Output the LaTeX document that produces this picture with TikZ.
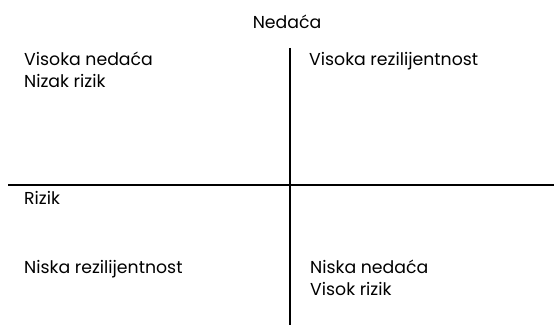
\documentclass[tikz,border=0pt]{standalone}
\usepackage{fontspec}
\setmainfont{Poppins}
\begin{document}
\begin{tikzpicture}[x=1pt,y=1pt,
  lbl/.style={anchor=base west,inner sep=0pt,font=\fontsize{17.3}{22}\selectfont},
  axis/.style={line width=2pt,black}]
\useasboundingbox (0,0) rectangle (554,327);
\node[lbl,anchor=base] (ned) at (287,298) {Nedaća};
\node[lbl] (q1a) at (24,261) {Visoka nedaća};
\node[lbl] (q1b) at (24,239) {Nizak rizik};
\node[lbl] (q2) at (309,261) {Visoka rezilijentnost};
\node[lbl] (rz) at (24,122) {Rizik};
\node[lbl] (q3) at (24,54) {Niska rezilijentnost};
\node[lbl] (q4a) at (310,54) {Niska nedaća};
\node[lbl] (q4b) at (310,32) {Visok rizik};
\coordinate (vt) at (289.5,279);
\coordinate (vb) at (289.5,2);
\coordinate (hl) at (8,142);
\coordinate (hr) at (554,142);
\draw[axis] (vt) -- (vb);
\draw[axis] (hl) -- (hr);
\end{tikzpicture}
\end{document}
